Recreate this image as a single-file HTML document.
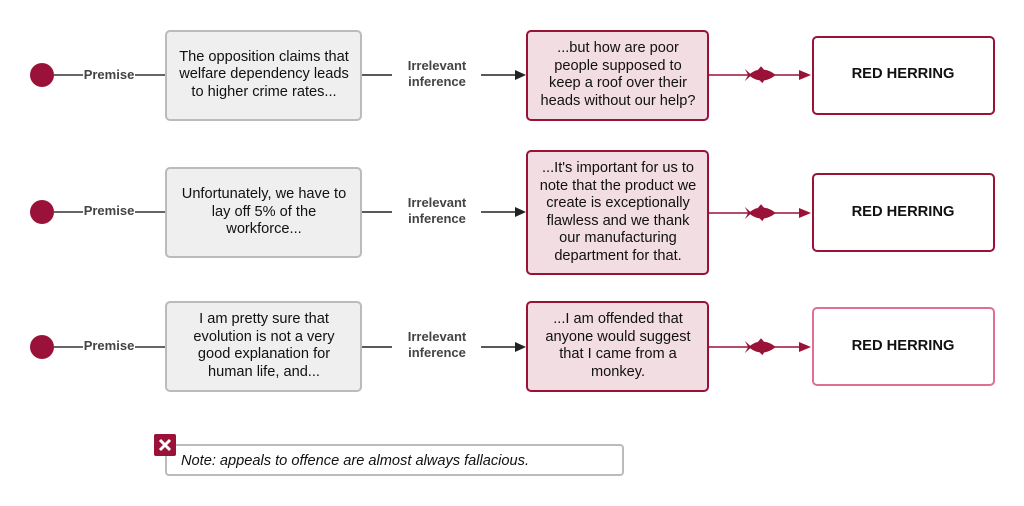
<!DOCTYPE html>
<html><head><meta charset="utf-8"><style>
html,body{margin:0;padding:0;background:#fff;}
svg{display:block;}
text{font-family:"Liberation Sans",sans-serif;}
.b{font-size:14.6px;fill:#111;text-anchor:middle;}
.l{font-size:13px;font-weight:bold;fill:#444;text-anchor:middle;}
.rh{font-size:14.7px;font-weight:bold;fill:#111;text-anchor:middle;}
</style></head><body>
<svg width="1024" height="506" viewBox="0 0 1024 506" xmlns="http://www.w3.org/2000/svg">
<defs>
<g id="fish" transform="scale(1.35)"><path d="M-12,-4.5 L-7,0 L-12,4.5 L-9.5,0 Z" fill="#9b1239"/><path d="M-9,0 C-4,-5 3,-5 8,-2 L11,0 L8,2 C3,5 -4,5 -9,0 Z" fill="#9b1239"/><path d="M-3,-3 L0,-6.5 L3,-3 Z" fill="#9b1239"/><path d="M-2,3 L1,6 L3,3 Z" fill="#9b1239"/></g>
</defs>
<!-- Row 1 -->
<circle cx="42" cy="75" r="12" fill="#9b1239"/>
<line x1="54" y1="75" x2="83" y2="75" stroke="#333" stroke-width="1.5"/>
<text class="l" x="109" y="79">Premise</text>
<line x1="135" y1="75" x2="166" y2="75" stroke="#333" stroke-width="1.5"/>
<rect x="166" y="31" width="195" height="89" rx="4" fill="#efefef" stroke="#bbb" stroke-width="2"/>
<text class="b" x="264" y="61">The opposition claims that</text>
<text class="b" x="264" y="78">welfare dependency leads</text>
<text class="b" x="264" y="96">to higher crime rates...</text>
<line x1="362" y1="75" x2="392" y2="75" stroke="#222" stroke-width="1.5"/>
<text class="l" x="437" y="70">Irrelevant</text>
<text class="l" x="437" y="86">inference</text>
<line x1="481" y1="75" x2="516" y2="75" stroke="#222" stroke-width="1.5"/>
<path d="M526,75 L515,70 L515,80 Z" fill="#222"/>
<rect x="527" y="31" width="181" height="89" rx="4" fill="#f2dde2" stroke="#9b1239" stroke-width="2"/>
<text class="b" x="618" y="52">...but how are poor</text>
<text class="b" x="618" y="70">people supposed to</text>
<text class="b" x="618" y="87">keep a roof over their</text>
<text class="b" x="618" y="105">heads without our help?</text>
<line x1="708" y1="75" x2="800" y2="75" stroke="#9b1239" stroke-width="1.5"/>
<use href="#fish" x="761" y="75"/>
<path d="M811,75 L799,70 L799,80 Z" fill="#9b1239"/>
<rect x="813" y="37" width="181" height="77" rx="4" fill="#fff" stroke="#9b1239" stroke-width="2"/>
<text class="rh" x="903" y="78">RED HERRING</text>

<!-- Row 2 -->
<circle cx="42" cy="212" r="12" fill="#9b1239"/>
<line x1="54" y1="212" x2="83" y2="212" stroke="#333" stroke-width="1.5"/>
<text class="l" x="109" y="215">Premise</text>
<line x1="135" y1="212" x2="166" y2="212" stroke="#333" stroke-width="1.5"/>
<rect x="166" y="168" width="195" height="89" rx="4" fill="#efefef" stroke="#bbb" stroke-width="2"/>
<text class="b" x="264" y="198">Unfortunately, we have to</text>
<text class="b" x="264" y="216">lay off 5% of the</text>
<text class="b" x="264" y="233">workforce...</text>
<line x1="362" y1="212" x2="392" y2="212" stroke="#222" stroke-width="1.5"/>
<text class="l" x="437" y="207">Irrelevant</text>
<text class="l" x="437" y="223">inference</text>
<line x1="481" y1="212" x2="516" y2="212" stroke="#222" stroke-width="1.5"/>
<path d="M526,212 L515,207 L515,217 Z" fill="#222"/>
<rect x="527" y="151" width="181" height="123" rx="4" fill="#f2dde2" stroke="#9b1239" stroke-width="2"/>
<text class="b" x="618" y="172">...It's important for us to</text>
<text class="b" x="618" y="190">note that the product we</text>
<text class="b" x="618" y="207">create is exceptionally</text>
<text class="b" x="618" y="225">flawless and we thank</text>
<text class="b" x="618" y="242">our manufacturing</text>
<text class="b" x="618" y="260">department for that.</text>
<line x1="708" y1="213" x2="800" y2="213" stroke="#9b1239" stroke-width="1.5"/>
<use href="#fish" x="761" y="213"/>
<path d="M811,213 L799,208 L799,218 Z" fill="#9b1239"/>
<rect x="813" y="174" width="181" height="77" rx="4" fill="#fff" stroke="#9b1239" stroke-width="2"/>
<text class="rh" x="903" y="216">RED HERRING</text>

<!-- Row 3 -->
<circle cx="42" cy="347" r="12" fill="#9b1239"/>
<line x1="54" y1="347" x2="83" y2="347" stroke="#333" stroke-width="1.5"/>
<text class="l" x="109" y="350">Premise</text>
<line x1="135" y1="347" x2="166" y2="347" stroke="#333" stroke-width="1.5"/>
<rect x="166" y="302" width="195" height="89" rx="4" fill="#efefef" stroke="#bbb" stroke-width="2"/>
<text class="b" x="264" y="323">I am pretty sure that</text>
<text class="b" x="264" y="341">evolution is not a very</text>
<text class="b" x="264" y="358">good explanation for</text>
<text class="b" x="264" y="376">human life, and...</text>
<line x1="362" y1="347" x2="392" y2="347" stroke="#222" stroke-width="1.5"/>
<text class="l" x="437" y="341">Irrelevant</text>
<text class="l" x="437" y="357">inference</text>
<line x1="481" y1="347" x2="516" y2="347" stroke="#222" stroke-width="1.5"/>
<path d="M526,347 L515,342 L515,352 Z" fill="#222"/>
<rect x="527" y="302" width="181" height="89" rx="4" fill="#f2dde2" stroke="#9b1239" stroke-width="2"/>
<text class="b" x="618" y="323">...I am offended that</text>
<text class="b" x="618" y="341">anyone would suggest</text>
<text class="b" x="618" y="358">that I came from a</text>
<text class="b" x="618" y="376">monkey.</text>
<line x1="708" y1="347" x2="800" y2="347" stroke="#9b1239" stroke-width="1.5"/>
<use href="#fish" x="761" y="347"/>
<path d="M811,347 L799,342 L799,352 Z" fill="#9b1239"/>
<rect x="813" y="308" width="181" height="77" rx="4" fill="#fff" stroke="#e07090" stroke-width="2"/>
<text class="rh" x="903" y="350">RED HERRING</text>

<!-- Note -->
<rect x="166" y="445" width="457" height="30" rx="3" fill="#fff" stroke="#bbb" stroke-width="2"/>
<text x="181" y="465" style="font-size:14.6px;font-style:italic;fill:#111;">Note: appeals to offence are almost always fallacious.</text>
<rect x="154" y="434" width="22" height="22" rx="2" fill="#9b1239"/>
<path d="M160,440 L170,450 M170,440 L160,450" stroke="#fff" stroke-width="3"/>
</svg>
</body></html>
